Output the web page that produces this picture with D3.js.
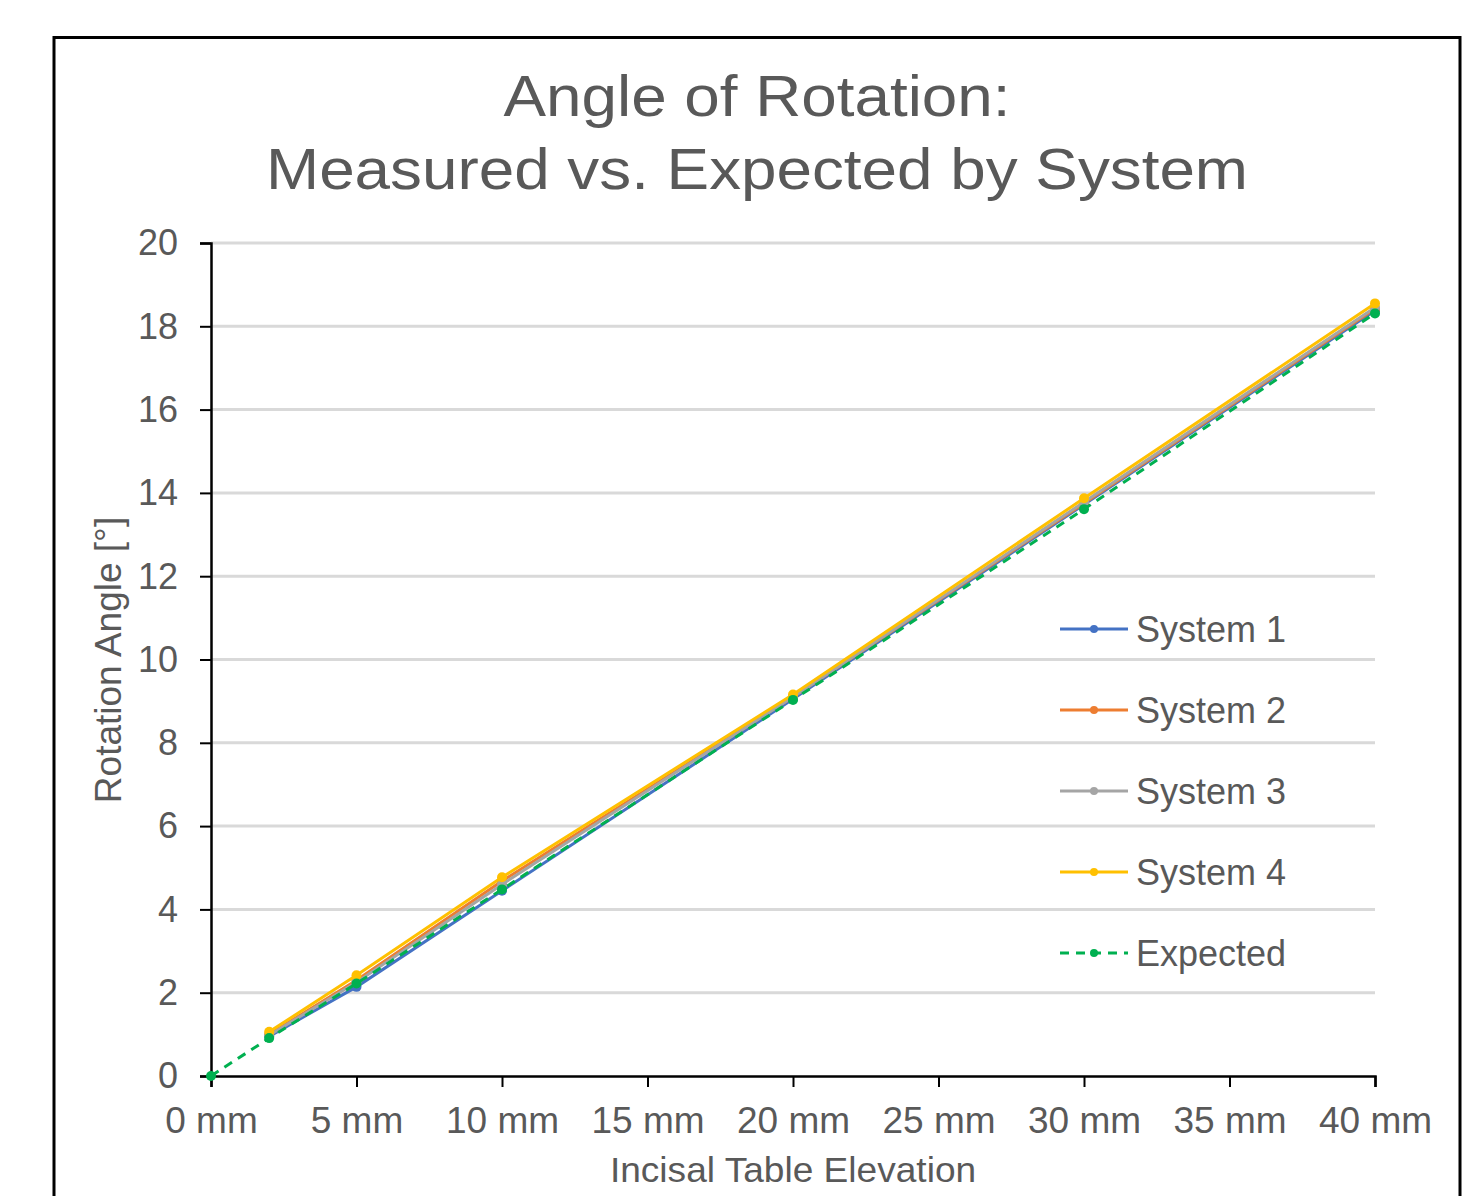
<!DOCTYPE html>
<html><head><meta charset="utf-8">
<script src="https://cdn.jsdelivr.net/npm/d3@7"></script>
<style>body{margin:0;background:#fff}svg{display:block}text{font-family:"Liberation Sans",Arial,sans-serif;fill:#595959}</style>
</head><body>
<svg id="c" width="1475" height="1196"></svg>
<script>
const xMeasured = [2, 5, 10, 20, 30, 40];
const system1 = [0.95, 2.14, 4.45, 9.05, 13.72, 18.38];
const system2 = [1.00, 2.30, 4.68, 9.10, 13.75, 18.42];
const system3 = [0.98, 2.25, 4.60, 9.10, 13.78, 18.45];
const system4 = [1.06, 2.42, 4.77, 9.16, 13.87, 18.55];
const xExpected = [0, 2, 5, 10, 20, 30, 40];
const expected = [0, 0.91, 2.22, 4.48, 9.03, 13.61, 18.31];
const seriesNames = ["System 1", "System 2", "System 3", "System 4", "Expected"];
const seriesColors = ["#4472C4", "#ED7D31", "#A5A5A5", "#FFC000", "#00B050"];
const xTicks = [0, 5, 10, 15, 20, 25, 30, 35, 40];
const yTicks = [0, 2, 4, 6, 8, 10, 12, 14, 16, 18, 20];

const svg = d3.select("#c");
svg.append("rect").attr("x",54).attr("y",37.5).attr("width",1406).attr("height",1200)
  .attr("fill","#fff").attr("stroke","#000").attr("stroke-width",3);

const x = d3.scaleLinear().domain([0,40]).range([211,1375]);
const y = d3.scaleLinear().domain([0,20]).range([1076,243]);

// gridlines
svg.append("g").selectAll("line").data(yTicks.filter(d=>d>0)).join("line")
  .attr("x1",211).attr("x2",1375).attr("y1",d=>y(d)).attr("y2",d=>y(d))
  .attr("stroke","#d9d9d9").attr("stroke-width",3);

// axes
const gx = svg.append("g").attr("transform","translate(0,1076)")
  .call(d3.axisBottom(x).tickValues(xTicks).tickFormat(d=>d+" mm").tickSize(11));
const gy = svg.append("g").attr("transform","translate(211,0)")
  .call(d3.axisLeft(y).tickValues(yTicks).tickSize(11).tickPadding(22));
[gx,gy].forEach(g=>{
  g.select(".domain").attr("stroke","#000").attr("stroke-width",2.5);
  g.selectAll(".tick line").attr("stroke","#000").attr("stroke-width",2);
  g.selectAll(".tick text").attr("fill","#595959")
    .style("font-family","'Liberation Sans',Arial,sans-serif");
});
gx.selectAll(".tick text").attr("font-size",37).attr("y",57).attr("dy",0);
gy.selectAll(".tick text").attr("font-size",36).attr("dy","0.33em");

// titles
svg.append("text").attr("transform","translate(757,116) scale(1.1,1)").attr("text-anchor","middle").attr("font-size",58).text("Angle of Rotation:");
svg.append("text").attr("transform","translate(757,189) scale(1.1,1)").attr("text-anchor","middle").attr("font-size",58).text("Measured vs. Expected by System");
svg.append("text").attr("transform","translate(793,1182) scale(1.06,1)").attr("text-anchor","middle").attr("font-size",35).text("Incisal Table Elevation");
svg.append("text").attr("transform","translate(121,660) rotate(-90)").attr("text-anchor","middle").attr("font-size",37).text("Rotation Angle [°]");

const line = d3.line().x(d=>x(d[0])).y(d=>y(d[1]));
const allSeries = [
  {xs:xMeasured, ys:system1},
  {xs:xMeasured, ys:system2},
  {xs:xMeasured, ys:system3},
  {xs:xMeasured, ys:system4},
  {xs:xExpected, ys:expected}
];
allSeries.forEach((s,i)=>{
  const pts = s.xs.map((v,j)=>[v,s.ys[j]]);
  const g = svg.append("g");
  g.append("path").attr("d",line(pts)).attr("fill","none").attr("stroke",seriesColors[i])
    .attr("stroke-width",3).attr("stroke-dasharray", i===4 ? "9,7" : null);
  g.selectAll("circle").data(pts).join("circle").attr("cx",d=>x(d[0])).attr("cy",d=>y(d[1]))
    .attr("r",5).attr("fill",seriesColors[i]);
});

// legend
const leg = svg.append("g");
seriesNames.forEach((n,i)=>{
  const ly = 629 + i*81;
  leg.append("line").attr("x1",1060).attr("x2",1128).attr("y1",ly).attr("y2",ly)
    .attr("stroke",seriesColors[i]).attr("stroke-width",3).attr("stroke-dasharray", i===4 ? "9,7" : null);
  leg.append("circle").attr("cx",1094).attr("cy",ly).attr("r",4).attr("fill",seriesColors[i]);
  leg.append("text").attr("x",1136).attr("y",ly).attr("dy","0.35em").attr("font-size",36).text(n);
});
</script>
</body></html>
